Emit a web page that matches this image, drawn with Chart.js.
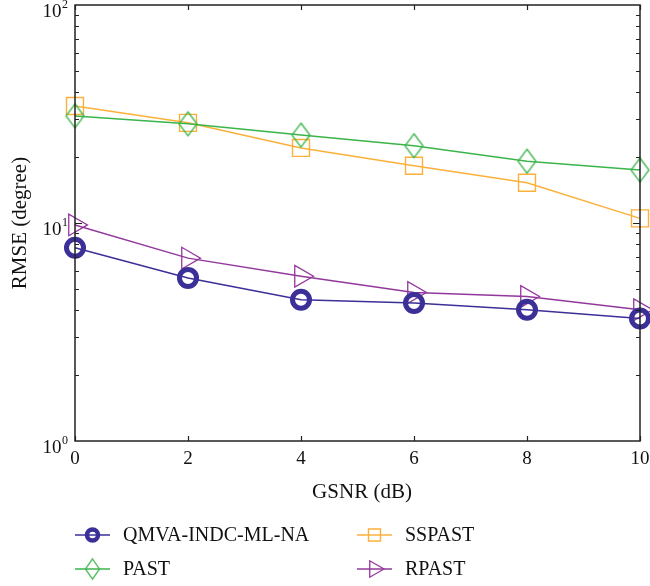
<!DOCTYPE html>
<html>
<head>
<meta charset="utf-8">
<script src="https://cdn.jsdelivr.net/npm/chart.js@4.4.0/dist/chart.umd.min.js"></script>
<style>
  html, body { margin: 0; padding: 0; background: #fff; }
</style>
</head>
<body>
<canvas id="grafico" width="650" height="586"></canvas>
<script>
  // datos
  let gsnr = [0, 2, 4, 6, 8, 10]
  let qmva = [7.7, 5.6, 4.45, 4.3, 4.0, 3.65]
  let past = [31.0, 28.5, 25.3, 22.6, 19.2, 17.5]
  let sspast = [34.4, 28.8, 22.1, 18.3, 15.3, 10.5]
  let rpast = [9.8, 6.9, 5.7, 4.8, 4.6, 4.0]
  let yTicks = [1, 10, 100]
  let yExp = ["0", "1", "2"]
  let xTicks = [0, 2, 4, 6, 8, 10]

  const FUENTE = "'Liberation Serif', 'Times New Roman', serif"
  const azul = "#3b2f98"
  const verde = "#3bb44a"
  const naranja = "#fbb03b"
  const violeta = "#92389c"

  // rombo mas alto que ancho, como el de matlab
  function rombo(hw, hh, color, lw) {
    const c = document.createElement("canvas")
    c.width = Math.ceil(hw * 2 + lw * 2 + 2)
    c.height = Math.ceil(hh * 2 + lw * 2 + 2)
    const g = c.getContext("2d")
    const cx = c.width / 2, cy = c.height / 2
    g.strokeStyle = color
    g.lineWidth = lw
    g.beginPath()
    g.moveTo(cx, cy - hh)
    g.lineTo(cx + hw, cy)
    g.lineTo(cx, cy + hh)
    g.lineTo(cx - hw, cy)
    g.closePath()
    g.stroke()
    return c
  }
  const romboGrande = rombo(9, 12, verde, 1.3)
  const romboChico = rombo(7, 10, verde, 1.3)

  const series = [
    { label: "QMVA-INDC-ML-NA", data: qmva, color: azul, pointStyle: "circle", radius: 8.5, bw: 5, rotation: 0 },
    { label: "PAST", data: past, color: verde, pointStyle: romboGrande, radius: 12, bw: 1.3, rotation: 0 },
    { label: "SSPAST", data: sspast, color: naranja, pointStyle: "rect", radius: 12, bw: 1.4, rotation: 0 },
    { label: "RPAST", data: rpast, color: violeta, pointStyle: "triangle", radius: 12.5, bw: 1.3, rotation: 90 }
  ]

  // leyenda en dos columnas abajo
  let leyenda = [
    { idx: 0, x: 75, y: 535, estilo: "circle", r: 5.5, bw: 4.5 },
    { idx: 2, x: 357, y: 535, estilo: "rect", r: 8.5, bw: 1.4 },
    { idx: 1, x: 75, y: 569, estilo: romboChico, r: 10, bw: 1.3 },
    { idx: 3, x: 357, y: 569, estilo: "triangle", r: 9.5, bw: 1.3 }
  ]

  const marcoPlugin = {
    id: "marco",
    afterDatasetsDraw(chart) {
      const ctx = chart.ctx
      const a = chart.chartArea
      const ys = chart.scales.y
      const xs = chart.scales.x
      ctx.save()
      ctx.strokeStyle = "#222"
      ctx.lineWidth = 1.5
      ctx.strokeRect(a.left, a.top, a.right - a.left, a.bottom - a.top)

      ctx.lineWidth = 1.2
      ctx.beginPath()
      // ticks menores del eje y (adentro, izquierda y derecha)
      for (let d = 1; d < 100; d *= 10) {
        for (let k = 1; k <= 9; k++) {
          const v = k * d
          if (v == 1) continue
          const py = Math.round(ys.getPixelForValue(v)) + 0.5
          const largo = (k == 1) ? 7 : 4
          ctx.moveTo(a.left, py); ctx.lineTo(a.left + largo, py)
          ctx.moveTo(a.right, py); ctx.lineTo(a.right - largo, py)
        }
      }
      // ticks del eje x arriba y abajo
      xTicks.forEach(function (v) {
        const px = Math.round(xs.getPixelForValue(v)) + 0.5
        ctx.moveTo(px, a.bottom); ctx.lineTo(px, a.bottom - 5)
        ctx.moveTo(px, a.top); ctx.lineTo(px, a.top + 5)
      })
      ctx.stroke()

      // etiquetas del eje y con exponente
      ctx.fillStyle = "#111"
      ctx.textBaseline = "alphabetic"
      yTicks.forEach(function (v, i) {
        const py = ys.getPixelForValue(v)
        ctx.font = "12px " + FUENTE
        ctx.textAlign = "left"
        const anchoExp = ctx.measureText(yExp[i]).width
        ctx.fillText(yExp[i], 68 - anchoExp, py + 3)
        ctx.font = "19px " + FUENTE
        ctx.textAlign = "right"
        ctx.fillText("10", 68 - anchoExp - 0.5, py + 12)
      })

      // titulos de ejes
      ctx.font = "21px " + FUENTE
      ctx.textAlign = "center"
      ctx.fillText("GSNR (dB)", 362, 498)
      ctx.save()
      ctx.translate(26, (a.top + a.bottom) / 2)
      ctx.rotate(-Math.PI / 2)
      ctx.fillText("RMSE (degree)", 0, 0)
      ctx.restore()

      // leyenda
      ctx.font = "20px " + FUENTE
      ctx.textAlign = "left"
      ctx.textBaseline = "middle"
      leyenda.forEach(function (it) {
        const s = series[it.idx]
        ctx.strokeStyle = s.color
        ctx.lineWidth = 1.5
        ctx.beginPath()
        ctx.moveTo(it.x, it.y); ctx.lineTo(it.x + 35, it.y)
        ctx.stroke()
        ctx.fillStyle = "rgba(0,0,0,0)"
        ctx.lineWidth = it.bw
        Chart.helpers.drawPoint(ctx, { pointStyle: it.estilo, radius: it.r, borderWidth: it.bw, rotation: s.rotation }, it.x + 17.5, it.y)
        ctx.fillStyle = "#111"
        ctx.fillText(s.label, it.x + 48, it.y + 1)
      })
      ctx.restore()
    }
  }

  var ctx = document.getElementById("grafico").getContext("2d")
  var grafico = new Chart(ctx, {
    type: "line",
    data: {
      labels: gsnr,
      datasets: series.map(function (s) {
        return {
          label: s.label,
          data: s.data.map(function (v, i) { return { x: gsnr[i], y: v } }),
          borderColor: s.color,
          borderWidth: 1.5,
          backgroundColor: "rgba(0,0,0,0)",
          pointStyle: s.pointStyle,
          pointRadius: s.radius,
          pointBorderWidth: s.bw,
          pointBorderColor: s.color,
          pointBackgroundColor: "rgba(0,0,0,0)",
          pointRotation: s.rotation,
          tension: 0,
          clip: false
        }
      })
    },
    options: {
      responsive: false,
      animation: false,
      events: [],
      layout: { autoPadding: false, padding: { top: 5, right: 10, left: 0, bottom: 0 } },
      plugins: {
        legend: { display: false },
        tooltip: { enabled: false }
      },
      scales: {
        x: {
          type: "linear",
          min: 0,
          max: 10,
          afterFit: function (scale) {
            scale.height = 145
            scale.paddingLeft = 0
            scale.paddingRight = 0
          },
          afterBuildTicks: function (scale) { scale.ticks = xTicks.map(function (v) { return { value: v } }) },
          grid: { display: false, drawTicks: false },
          border: { display: false },
          ticks: {
            padding: 7,
            color: "#111",
            font: { family: FUENTE, size: 19 },
            maxRotation: 0
          }
        },
        y: {
          type: "logarithmic",
          min: 1,
          max: 100,
          afterFit: function (scale) {
            scale.width = 75
            scale.paddingTop = 0
            scale.paddingBottom = 0
          },
          afterBuildTicks: function (scale) { scale.ticks = yTicks.map(function (v) { return { value: v } }) },
          grid: { display: false, drawTicks: false },
          border: { display: false },
          ticks: { display: false }
        }
      }
    },
    plugins: [marcoPlugin]
  })
</script>
</body>
</html>
